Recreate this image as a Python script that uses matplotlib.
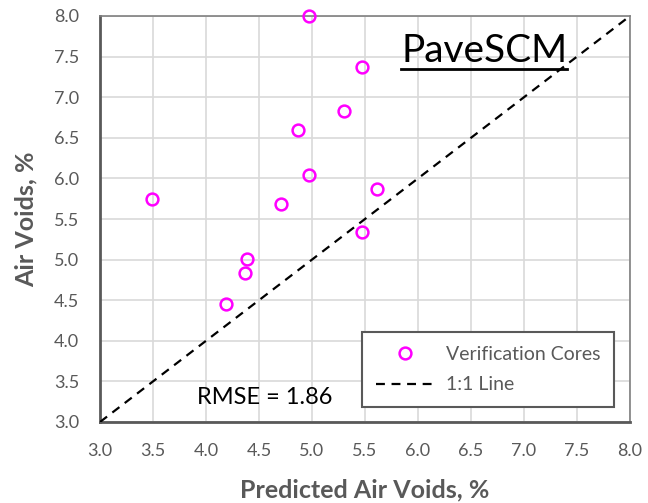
import matplotlib
matplotlib.use("Agg")
import matplotlib.pyplot as plt
from matplotlib.lines import Line2D

plt.rcParams["font.family"] = ["Lato", "DejaVu Sans"]

# Verification cores: predicted vs measured air voids (%)
predicted = [3.49, 4.19, 4.37, 4.39, 4.71, 4.87, 4.97, 4.97, 5.30, 5.47, 5.47, 5.61]
measured = [5.75, 4.45, 4.84, 5.01, 5.69, 6.60, 8.00, 6.04, 6.83, 7.37, 5.34, 5.87]
one_to_one = [3.0, 8.0]
ticks = [3.0, 3.5, 4.0, 4.5, 5.0, 5.5, 6.0, 6.5, 7.0, 7.5, 8.0]
rmse_text = "RMSE = 1.86"
model_name = "PaveSCM"

GRAY = "#595959"
MAGENTA = "#ff00ff"

fig = plt.figure(figsize=(6.48, 5.03), dpi=100)
ax = fig.add_axes([100 / 648, 1 - 422 / 503, 530 / 648, 406 / 503])

ax.plot(one_to_one, one_to_one, ls=(0, (4, 3)), color="black", lw=1.6,
        label="1:1 Line", zorder=3)
ax.plot(predicted, measured, ls="none", marker="o", ms=8.5, mfc="none",
        mec=MAGENTA, mew=1.8, label="Verification Cores", zorder=4,
        clip_on=False)

ax.set_xlim(3.0, 8.0)
ax.set_ylim(3.0, 8.0)
ax.set_xticks(ticks)
ax.set_yticks(ticks)
ax.set_xticklabels([f"{t:.1f}" for t in ticks])
ax.set_yticklabels([f"{t:.1f}" for t in ticks])
ax.tick_params(length=0, labelsize=13, labelcolor=GRAY)
ax.tick_params(axis="x", pad=15)
ax.tick_params(axis="y", pad=15)
ax.grid(True, color="#d9d9d9", lw=1.2, zorder=0)
ax.set_axisbelow(True)

for side in ("left", "bottom"):
    ax.spines[side].set_color(GRAY)
    ax.spines[side].set_linewidth(2.0)
for side in ("top", "right"):
    ax.spines[side].set_color("#7f7f7f")
    ax.spines[side].set_linewidth(1.2)

ax.set_xlabel("Predicted Air Voids, %", fontsize=18, fontweight="bold",
              color=GRAY, labelpad=14)
ax.set_ylabel("Air Voids, %", fontsize=18, fontweight="bold",
              color=GRAY, labelpad=12)

ax.text(0.183, 0.06, rmse_text, transform=ax.transAxes, fontsize=17,
        color="black", ha="left", va="center")

title = ax.text(0.568, 0.913, model_name, transform=ax.transAxes, fontsize=28,
                color="black", ha="left", va="center")

# underline the model name
fig.canvas.draw()
bb = title.get_window_extent().transformed(ax.transAxes.inverted())
ax.add_line(Line2D([bb.x0, bb.x1], [bb.y0 + 0.002, bb.y0 + 0.002],
                   transform=ax.transAxes, color="black", lw=2.0,
                   clip_on=False))

handles, labels = ax.get_legend_handles_labels()
leg = ax.legend(handles[::-1], labels[::-1], loc="lower right",
                bbox_to_anchor=(0.97, 0.037), fontsize=14, frameon=True,
                fancybox=False, framealpha=1, edgecolor=GRAY,
                borderpad=0.7, labelspacing=0.7, handlelength=3.0,
                handletextpad=0.6, borderaxespad=0)
leg.get_frame().set_linewidth(1.5)
for t in leg.get_texts():
    t.set_color(GRAY)

fig.savefig("out.png", dpi=100)
